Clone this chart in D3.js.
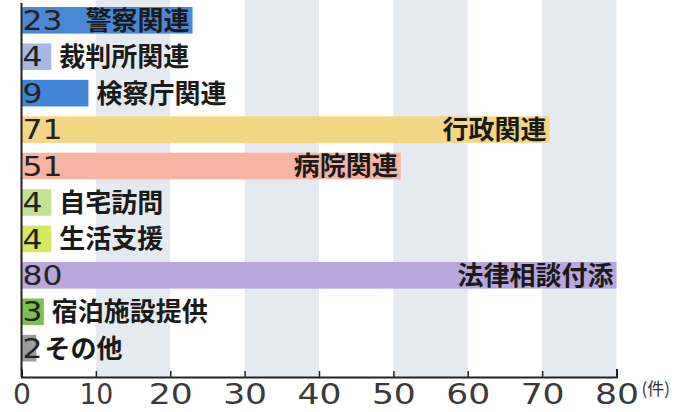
<!DOCTYPE html>
<html>
<head>
<meta charset="utf-8">
<script src="https://cdn.jsdelivr.net/npm/d3@7"></script>
<style>
  body { margin: 0; background: #fff; }
  svg { display: block; }
  .cat { font-family: "Noto Sans CJK JP", sans-serif; font-weight: 700; fill: #1a1a1a; }
  .num { font-family: "DejaVu Sans", sans-serif; fill: #222; }
  .x.axis text { font-family: "DejaVu Sans", sans-serif; fill: #3a3a3a; font-size: 28px; }
</style>
</head>
<body>
<svg id="chart"></svg>
<script>
var categories = ["警察関連", "裁判所関連", "検察庁関連", "行政関連", "病院関連",
                  "自宅訪問", "生活支援", "法律相談付添", "宿泊施設提供", "その他"];
var values = [23, 4, 9, 71, 51, 4, 4, 80, 3, 2];
var tickValues = [0, 10, 20, 30, 40, 50, 60, 70, 80];
var bandPairs = [[10, 20], [30, 40], [50, 60], [70, 80]];
var unitLabel = "(件)";

var barColors = ["#4a88d6", "#a8b8e4", "#3f86d8", "#f4d685", "#f7b4a2",
                 "#c3e193", "#d5e85e", "#b8a6dc", "#7cbf4a", "#9c9c9c"];

var width = 687,
    height = 412,
    axisY = 377;

var data = categories.map(function(c, i) { return {cat: c, value: values[i]}; });

var xScale = d3.scaleLinear().domain([0, 80]).range([21.5, 616.5]);
var yScale = d3.scaleBand()
    .domain(categories)
    .range([7, 361.5])
    .paddingInner(0.27)
    .paddingOuter(0);
var color = d3.scaleOrdinal().domain(categories).range(barColors);

var svg = d3.select("#chart")
    .attr("width", width)
    .attr("height", height);

// shaded column bands
svg.append("g")
    .attr("class", "bands")
    .selectAll("rect")
    .data(bandPairs)
    .enter()
    .append("rect")
    .attr("x", function(d) { return xScale(d[0]); })
    .attr("width", function(d) { return xScale(d[1]) - xScale(d[0]); })
    .attr("y", 0)
    .attr("height", axisY)
    .attr("fill", "#e5eaf0");

// bars
var rows = svg.append("g")
    .attr("class", "bars")
    .selectAll("g")
    .data(data)
    .enter()
    .append("g");

rows.append("rect")
    .attr("x", xScale(0))
    .attr("y", function(d) { return yScale(d.cat); })
    .attr("width", function(d) { return xScale(d.value) - xScale(0); })
    .attr("height", yScale.bandwidth())
    .attr("fill", function(d) { return color(d.cat); });

rows.append("text")
    .attr("class", "num")
    .attr("x", xScale(0) + 1)
    .attr("y", function(d) { return yScale(d.cat) + yScale.bandwidth() / 2; })
    .attr("dy", "0.36em")
    .style("font-size", "27px")
    .attr("textLength", function(d) { return String(d.value).length * 20; })
    .attr("lengthAdjust", "spacingAndGlyphs")
    .text(function(d) { return d.value; });

rows.append("text")
    .attr("class", "cat")
    .attr("x", function(d) {
        return d.value >= 20 ? xScale(d.value) - 3 : xScale(d.value) + 8;
    })
    .attr("y", function(d) { return yScale(d.cat) + yScale.bandwidth() / 2; })
    .attr("dy", "0.36em")
    .style("font-size", "26px")
    .style("text-anchor", function(d) { return d.value >= 20 ? "end" : "start"; })
    .text(function(d) { return d.cat; });

// left axis line
svg.append("line")
    .attr("x1", xScale(0))
    .attr("x2", xScale(0))
    .attr("y1", 3)
    .attr("y2", axisY)
    .attr("stroke", "#222")
    .attr("stroke-width", 2);

// x axis
var xAxis = d3.axisBottom(xScale)
    .tickValues(tickValues)
    .tickSize(-6)
    .tickSizeOuter(-8)
    .tickPadding(7)
    .tickFormat(d3.format("d"));

var gx = svg.append("g")
    .attr("class", "x axis")
    .attr("transform", "translate(0," + axisY + ")")
    .call(xAxis);

gx.select(".domain").attr("stroke", "#222").attr("stroke-width", 2);
gx.selectAll(".tick line").attr("stroke", "#222").attr("stroke-width", 1.5);
gx.selectAll(".tick text")
    .attr("textLength", function(d) { return d === 0 ? 18 : (d === 10 ? 34 : 44); })
    .attr("lengthAdjust", "spacingAndGlyphs");

svg.append("text")
    .attr("x", xScale(80) + 25)
    .attr("y", axisY + 18)
    .style("font-family", "\"Noto Sans CJK JP\", sans-serif")
    .style("font-size", "17px")
    .attr("fill", "#333")
    .text(unitLabel);
</script>
</body>
</html>
